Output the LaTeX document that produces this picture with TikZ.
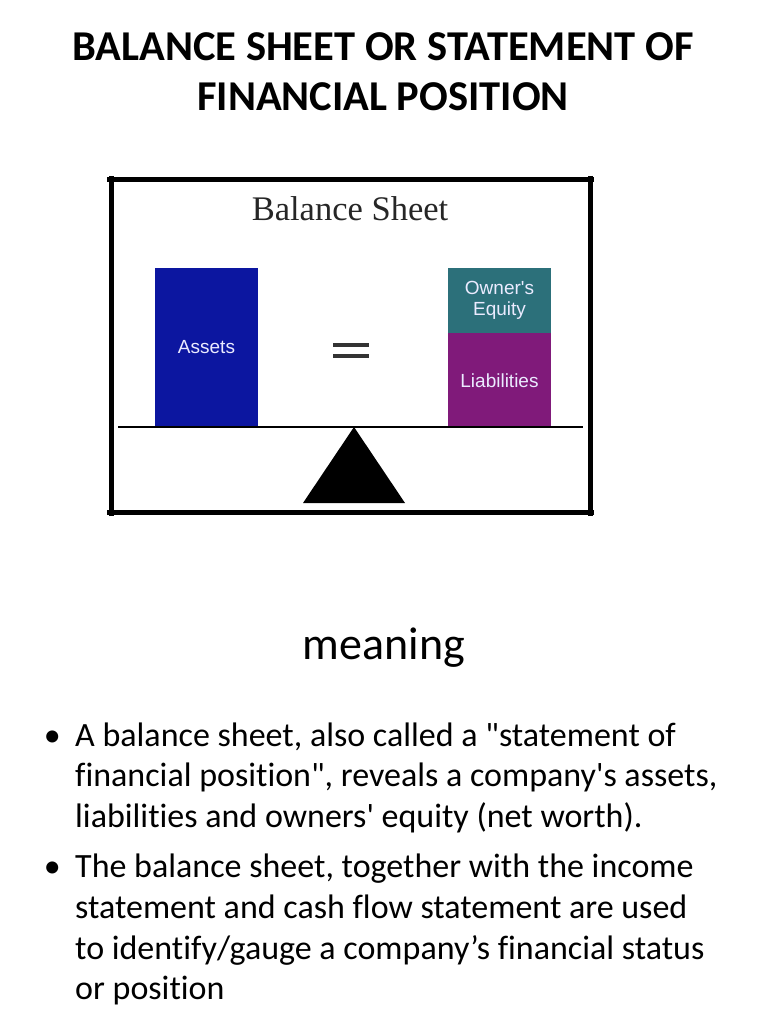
\documentclass[tikz,border=0pt]{standalone}
\usepackage{fontspec}
\usepackage{xcolor}
\usepackage{tikz}
\usetikzlibrary{positioning}

\newfontfamily\bodyfont{Carlito}[Ligatures=NoCommon]
\newfontfamily\blockfont{Liberation Sans}
\newfontfamily\sheetfont{Liberation Serif}

\definecolor{assetblue}{RGB}{12,22,160}
\definecolor{equityteal}{RGB}{44,112,122}
\definecolor{liabpurple}{RGB}{128,26,122}

\tikzset{
  block/.style={minimum width=103pt, inner sep=0pt, align=center,
    font=\fontsize{19}{21}\blockfont, text=white!92!blue},
  frameside/.style={line width=5pt, shorten <=-4pt, shorten >=-4pt},
  paratext/.style={anchor=north west, inner sep=0pt, align=left,
    font=\fontsize{34}{40.7}\bodyfont},
  bulletmark/.style={anchor=north east, inner sep=0pt,
    font=\fontsize{34}{40.7}\bodyfont}
}

\begin{document}
\begin{tikzpicture}[x=1pt,y=-1pt]
\useasboundingbox (0,0) rectangle (768,1024);

\node[font=\fontsize{42.5}{50}\bodyfont\bfseries, align=center] (heading) at (383,72)
  {BALANCE SHEET OR STATEMENT OF\\FINANCIAL POSITION};

% the picture of the scale
\coordinate (fnw) at (111,180);
\coordinate (fne) at (590,180);
\coordinate (fse) at (590,512);
\coordinate (fsw) at (111,512);
\foreach \a/\b in {fnw/fne,fne/fse,fse/fsw,fsw/fnw}
  \draw[frameside] (\a) -- (\b);

\node[font=\fontsize{34.5}{38}\sheetfont, text=black!85] (sheettitle) at (350,209) {Balance Sheet};

\node[block, fill=assetblue, minimum height=159pt] (assets) at (206.5,347.5) {Assets};
\node[block, fill=equityteal, minimum height=65pt] (equity) at (499.5,300.5) {Owner's\\Equity};
\node[block, fill=liabpurple, minimum height=94pt, below=0pt of equity] (liab) {Liabilities};

\draw[line width=3.5pt, black!80] (333,345) -- (369,345);
\draw[line width=3.5pt, black!80] (333,356) -- (369,356);

\coordinate (beamL) at (118,427);
\coordinate (beamR) at (583,427);
\draw[line width=2pt] (beamL) -- (beamR);
\fill (354,427) -- (405,503) -- (303,503) -- cycle;

% text part
\node[font=\fontsize{46}{54}\bodyfont] (meaning) at (384,648) {meaning};

\node[paratext] (para1) at (75,717.5) {\strut A balance sheet, also called a "statement of\\
  financial position", reveals a company's assets,\\
  liabilities and owners' equity (net worth).\strut};
\node[paratext, below=9pt of para1.south west, anchor=north west] (para2)
  {\strut The balance sheet, together with the income\\
  statement and cash flow statement are used\\
  to identify/gauge a company’s financial status\\
  or position\strut};
\node[bulletmark] (dot1) at ([xshift=-14pt]para1.north west) {\strut •};
\node[bulletmark] (dot2) at ([xshift=-14pt]para2.north west) {\strut •};
\end{tikzpicture}
\end{document}
